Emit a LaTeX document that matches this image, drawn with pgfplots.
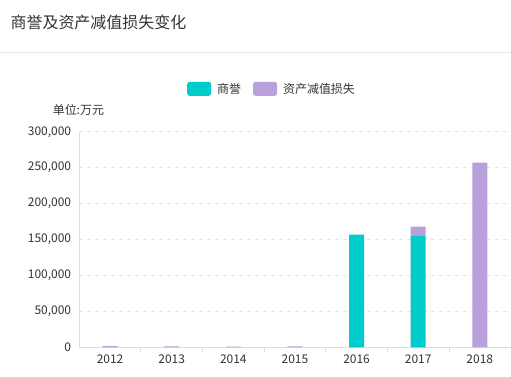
\documentclass[border=0pt]{standalone}
\usepackage{fontspec}
\setmainfont{Noto Sans CJK SC}
\usepackage{pgfplots}
\pgfplotsset{compat=1.18}
\definecolor{teal1}{RGB}{0,204,204}
\definecolor{lav}{RGB}{185,160,219}
\definecolor{txt}{RGB}{51,51,51}
\definecolor{gridc}{RGB}{230,230,230}
\definecolor{axc}{RGB}{220,220,225}
\begin{document}
\begin{tikzpicture}[x=1pt,y=1pt]
\fill[white] (0,0) rectangle (511,377);
\node[anchor=west, text=txt, inner sep=0pt, font=\fontsize{16}{19}\selectfont] at (10,355) {商誉及资产减值损失变化};
\draw[gridc, line width=0.8pt] (0,325) -- (511,325);
\begin{axis}[
  at={(79pt,29pt)}, anchor=south west,
  scale only axis, width=432pt, height=216pt,
  ybar stacked, bar width=15pt,
  xmin=-0.5, xmax=6.5, ymin=0, ymax=300000,
  xtick={0,1,2,3,4,5,6},
  xticklabels={2012,2013,2014,2015,2016,2017,2018},
  ytick={0,50000,100000,150000,200000,250000,300000},
  scaled y ticks=false,
  /pgf/number format/.cd, fixed, 1000 sep={,}, assume math mode=true, /pgfplots/.cd,
  axis x line=bottom, axis y line=left,
  axis line style={axc, line width=0.8pt, -},
  major tick length=0pt,
  ymajorgrids, grid style={gridc, dashed, dash pattern=on 4pt off 4pt, line width=0.7pt},
  ticklabel style={font=\fontsize{12}{14}\selectfont, text=txt, inner sep=0pt},
  yticklabel style={anchor=east, xshift=-8pt},
  xticklabel style={anchor=north, yshift=-7pt},
  extra x ticks={0.5,1.5,2.5,3.5,4.5,5.5},
  extra x tick labels={},
  extra x tick style={grid=none, major tick length=5pt, tick align=outside, tick style={axc, line width=0.8pt}},
  legend columns=2,
  legend style={at={(0.447,1.199)}, anchor=center, draw=none, fill=none,
    font=\fontsize{12}{14}\selectfont, text=txt,
    /tikz/every even column/.append style={column sep=10pt}},
  legend image code/.code={\fill[#1, rounded corners=2.5pt] (0pt,-7pt) rectangle (24pt,7pt);\path (28pt,0pt);},
  clip=false,
]
\addplot[fill=teal1, draw=none] coordinates {(0,0) (1,0) (2,0) (3,0) (4,157000) (5,156000) (6,0)};
\addplot[fill=lav, draw=none] coordinates {(0,2000) (1,1500) (2,1000) (3,1500) (4,0) (5,12000) (6,257000)};
\legend{商誉,资产减值损失}
\node[text=txt, font=\fontsize{12}{14}\selectfont, inner sep=0pt] at (axis description cs:-0.002,1.102) {单位:万元};
\end{axis}
\end{tikzpicture}
\end{document}
